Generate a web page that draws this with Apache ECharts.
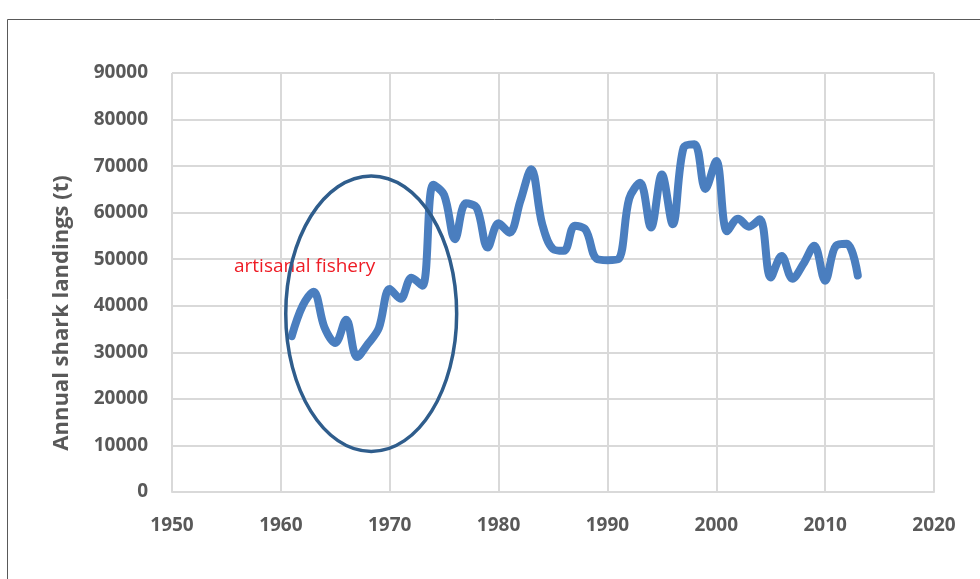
<!DOCTYPE html>
<html>
<head>
<meta charset="utf-8">
<script src="https://cdn.jsdelivr.net/npm/echarts@6/dist/echarts.min.js"></script>
<style>
  html, body { margin: 0; padding: 0; background: #fff; }
  #chart { width: 980px; height: 579px; }
</style>
</head>
<body>
<div id="chart"></div>
<script>
const years = [
  1961, 1962, 1963, 1964, 1965, 1966, 1967, 1968, 1969, 1970,
  1971, 1972, 1973, 1974, 1975, 1976, 1977, 1978, 1979, 1980,
  1981, 1982, 1983, 1984, 1985, 1986, 1987, 1988, 1989, 1990,
  1991, 1992, 1993, 1994, 1995, 1996, 1997, 1998, 1999, 2000,
  2001, 2002, 2003, 2004, 2005, 2006, 2007, 2008, 2009, 2010,
  2011, 2012, 2013
];
const landings = [
  33500, 40000, 43000, 35400, 32000, 37000, 29000, 31800, 35200, 43600,
  41500, 46000, 44300, 66000, 63800, 54300, 62000, 61000, 52500, 57700,
  55700, 62500, 69300, 57600, 52200, 51800, 57200, 56300, 50100, 49800,
  50000, 63000, 66400, 56800, 68200, 57500, 74000, 74700, 65100, 71100,
  56000, 58700, 57000, 58600, 46100, 50700, 45800, 49000, 52900, 45400,
  52900, 53300, 46500
];
const xTicks = [1950, 1960, 1970, 1980, 1990, 2000, 2010, 2020];
const yTicks = [0, 10000, 20000, 30000, 40000, 50000, 60000, 70000, 80000, 90000];

const labelColor = "#595959";
const gridColor = "#d9d9d9";

const chart = echarts.init(document.getElementById("chart"));

const seriesData = years.map((y, i) => [y, landings[i]]);

chart.setOption({
  animation: false,
  grid: { left: 172, right: 46, top: 73, bottom: 87 },
  xAxis: {
    type: "value",
    min: xTicks[0],
    max: xTicks[xTicks.length - 1],
    interval: 10,
    axisLine: { show: true, lineStyle: { color: gridColor, width: 2 } },
    axisTick: { show: false },
    axisLabel: {
      color: labelColor,
      fontFamily: "Open Sans",
      fontWeight: "bold",
      fontSize: 19,
      margin: 24,
      formatter: (v) => String(v),
    },
    splitLine: { show: true, lineStyle: { color: gridColor, width: 2 } },
  },
  yAxis: {
    type: "value",
    min: yTicks[0],
    max: yTicks[yTicks.length - 1],
    interval: 10000,
    axisLine: { show: false },
    axisTick: { show: false },
    axisLabel: {
      color: labelColor,
      fontFamily: "Open Sans",
      fontWeight: "bold",
      fontSize: 19,
      margin: 24,
      formatter: (v) => String(v),
    },
    splitLine: { show: true, lineStyle: { color: gridColor, width: 2 } },
  },
  series: [
    {
      type: "line",
      data: seriesData,
      smooth: 0.35,
      showSymbol: false,
      lineStyle: { color: "#4a7ebf", width: 8, cap: "round", join: "round" },
    },
  ],
});

// annotations: ellipse around the early years, label, axis title, frame
const c = chart.convertToPixel({ gridIndex: 0 }, [1968.3, 38300]);
const e = chart.convertToPixel({ gridIndex: 0 }, [1976.15, 8700]);
const rx = e[0] - c[0];
const ry = e[1] - c[1];

chart.setOption({
  graphic: [
    {
      type: "rect",
      shape: { x: 7.5, y: 19.5, width: 1000, height: 600 },
      style: { fill: null, stroke: "#595959", lineWidth: 1 },
      silent: true,
    },
    {
      type: "ellipse",
      shape: { cx: c[0], cy: c[1], rx: rx, ry: ry },
      style: { fill: null, stroke: "#2f5d8c", lineWidth: 3.5 },
      z: 10,
    },
    {
      type: "text",
      x: 234,
      y: 267,
      style: {
        text: "artisanal fishery",
        fill: "#ee1c25",
        font: "19px 'Open Sans'",
        textAlign: "left",
        textVerticalAlign: "middle",
      },
      z: 5,
    },
    {
      type: "text",
      x: 62,
      y: 313,
      rotation: Math.PI / 2,
      style: {
        text: "Annual shark landings (t)",
        fill: labelColor,
        font: "bold 22px 'Open Sans'",
        textAlign: "center",
        textVerticalAlign: "middle",
      },
    },
  ],
});
</script>
</body>
</html>
